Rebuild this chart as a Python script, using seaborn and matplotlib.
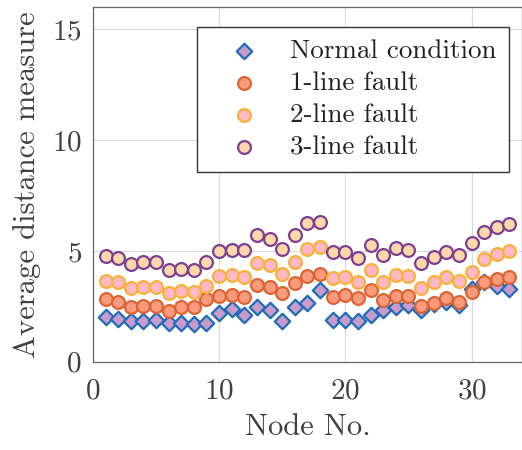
import numpy as np
import pandas as pd
import matplotlib
matplotlib.use("Agg")
import matplotlib.pyplot as plt
import seaborn as sns

nodes = list(range(1, 34))
normal = [2.01, 1.94, 1.82, 1.86, 1.89, 1.74, 1.77, 1.71, 1.77, 2.19, 2.38,
          2.12, 2.49, 2.34, 1.82, 2.49, 2.64, 3.24, 1.89, 1.89, 1.86, 2.12,
          2.34, 2.46, 2.57, 2.35, 2.6, 2.7, 2.55, 3.3, 3.6, 3.4, 3.3]
fault1 = [2.82, 2.72, 2.49, 2.52, 2.52, 2.31, 2.46, 2.46, 2.82, 2.97, 3.02,
          2.94, 3.47, 3.36, 3.09, 3.54, 3.87, 3.96, 2.91, 3.02, 2.87, 3.24,
          2.79, 2.97, 2.97, 2.52, 2.67, 2.87, 2.72, 3.17, 3.62, 3.72, 3.84]
fault2 = [3.65, 3.62, 3.32, 3.36, 3.36, 3.09, 3.21, 3.17, 3.42, 3.87, 3.9,
          3.84, 4.44, 4.37, 3.96, 4.52, 5.08, 5.17, 3.77, 3.84, 3.62, 4.14,
          3.62, 3.92, 3.87, 3.32, 3.62, 3.81, 3.66, 4.07, 4.62, 4.86, 5.01]
fault3 = [4.77, 4.67, 4.41, 4.49, 4.49, 4.14, 4.17, 4.14, 4.52, 5.01, 5.05,
          5.03, 5.7, 5.52, 5.1, 5.7, 6.25, 6.32, 4.97, 4.97, 4.67, 5.27,
          4.82, 5.12, 5.05, 4.44, 4.71, 4.97, 4.82, 5.35, 5.84, 6.07, 6.22]

labels = ["Normal condition", "1-line fault", "2-line fault", "3-line fault"]
faces = ["#C99BCB", "#F79B7C", "#FFB8C6", "#FDD8A8"]
edges = ["#1F6DB8", "#DE6435", "#F8B23A", "#7D3F96"]
markers = ["D", "o", "o", "o"]
sizes = [62, 85, 85, 85]

df = pd.DataFrame({"node": nodes * 4,
                   "value": normal + fault1 + fault2 + fault3,
                   "series": sum([[l] * len(nodes) for l in labels], [])})

sns.set_style("white")
plt.rcParams["font.family"] = ["cmr10", "DejaVu Serif"]
plt.rcParams["axes.formatter.use_mathtext"] = True
plt.rcParams["mathtext.fontset"] = "cm"

fig = plt.figure(figsize=(5.22, 4.5), dpi=100)
ax = fig.add_axes([0.178, 0.196, 0.822, 0.788])

for lab, fc, ec, mk, sz in zip(labels, faces, edges, markers, sizes):
    sub = df[df["series"] == lab]
    sns.scatterplot(data=sub, x="node", y="value", ax=ax, marker=mk, s=sz,
                    color=fc, edgecolor=ec, linewidth=1.6, label=lab, zorder=3)

ax.set_xlim(0, 34)
ax.set_ylim(0, 16)
ax.set_xticks([0, 10, 20, 30])
ax.set_yticks([0, 5, 10, 15])
ax.grid(True, color="#d9d9d9", linewidth=0.8, zorder=0)
ax.set_axisbelow(True)
ax.tick_params(direction="in", length=4, labelsize=21, colors="#404040",
               top=False, right=False)
ax.tick_params(axis="x", pad=12)
ax.tick_params(axis="y", pad=8)
for sp in ax.spines.values():
    sp.set_color("#666666")
    sp.set_linewidth(0.9)
ax.set_xlabel("Node No.", fontsize=22, color="#404040", labelpad=6)
ax.set_ylabel("Average distance measure", fontsize=22, color="#404040",
              labelpad=8)

leg = ax.legend(loc="upper right", bbox_to_anchor=(0.97, 0.944),
                fontsize=19.5, frameon=True, fancybox=False,
                edgecolor="#333333", framealpha=1, borderpad=0.45,
                handlelength=2.6, handletextpad=0.4,
                labelspacing=0.3, borderaxespad=0)
leg.get_frame().set_linewidth(1.0)
for t in leg.get_texts():
    t.set_color("#222222")

fig.savefig("out.png", dpi=100)
